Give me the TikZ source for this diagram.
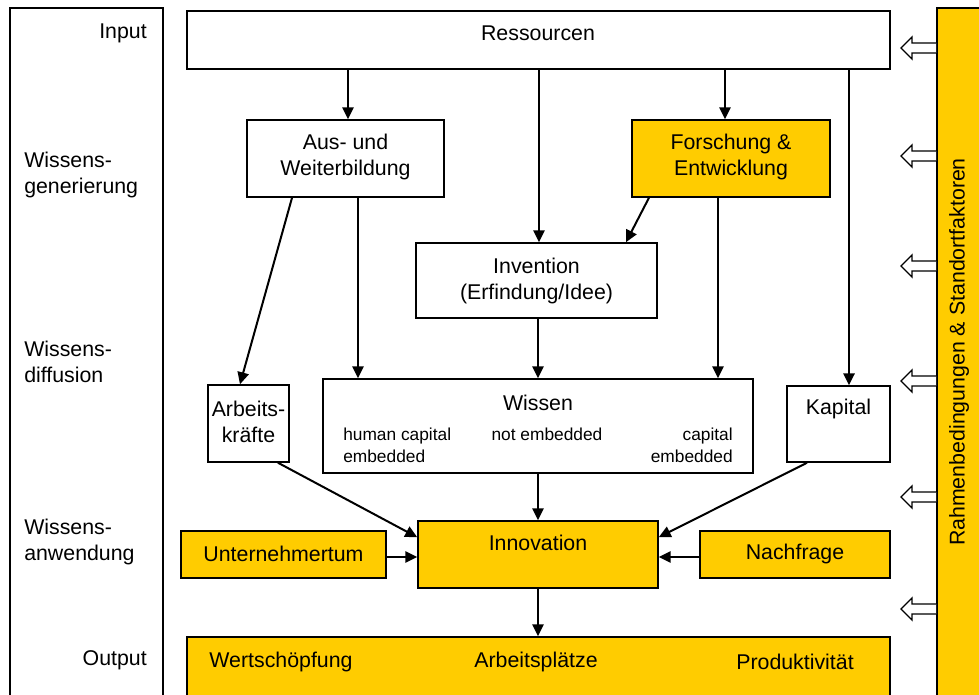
\documentclass[tikz,border=0pt]{standalone}
\usepackage{fontspec}
\setmainfont{Liberation Sans}
\usetikzlibrary{arrows.meta,calc}
\definecolor{gelb}{HTML}{FFCC00}
\newcommand{\mybox}[6]{\node[#6, minimum width={(#4-#2)*0.75pt}, minimum height={(#5-#3)*0.75pt}] (#1) at ({(#2+#4)/2},{(#3+#5)/2}) {};}
\begin{document}
\begin{tikzpicture}[x=0.75pt,y=-0.75pt,
  box/.style={draw, line width=1.1pt, inner sep=0pt, fill=white},
  ybox/.style={box, fill=gelb},
  txt/.style={inner sep=0pt, font=\fontsize{16}{19.5}\selectfont, align=center},
  stxt/.style={inner sep=0pt, font=\fontsize{13}{16}\selectfont},
  arr/.style={line width=1.5pt, -{Triangle[length=9pt,width=8.5pt]}},
  hollow/.style={draw, line width=1pt, fill=white, line join=miter}]
\useasboundingbox (0,0) rectangle (979,695);
\clip (0,0) rectangle (979,695);
% left column
\mybox{lc}{10}{8}{163}{720}{box}
\node[txt, anchor=east] (tin) at (147,33) {Input};
\node[txt, anchor=west, align=left] (tgen) at (24,175) {Wissens-\\generierung};
\node[txt, anchor=west, align=left] (tdif) at (24,362) {Wissens-\\diffusion};
\node[txt, anchor=west, align=left] (tanw) at (24,542) {Wissens-\\anwendung};
\node[txt, anchor=east] (tout) at (147,660) {Output};
% right bar
\mybox{rb}{937}{8}{1000}{720}{ybox}
\node[txt, rotate=90] (rbt) at (959,352) {Rahmenbedingungen \& Standortfaktoren};
\foreach \yy in {48,156,266,381,497,609} {
  \filldraw[hollow] (936,{\yy-5}) -- (912,{\yy-5}) -- (912,{\yy-11}) -- (901,\yy) -- (912,{\yy+11}) -- (912,{\yy+5}) -- (936,{\yy+5});
}
% boxes
\mybox{res}{187}{11}{890}{69}{box}
\node[txt] (tres) at (538,33) {Ressourcen};
\mybox{aus}{247}{120}{444}{197}{box}
\node[txt] (taus) at (345.5,157) {Aus- und\\Weiterbildung};
\mybox{fue}{632}{120}{830}{197}{ybox}
\node[txt] (tfue) at (731,157) {Forschung \&\\Entwicklung};
\mybox{inv}{416}{243}{657}{318}{box}
\node[txt] (tinv) at (536.5,281) {Invention\\(Erfindung/Idee)};
\mybox{arb}{208}{385}{289}{462}{box}
\node[txt] (tarb) at (248.5,422) {Arbeits-\\kräfte};
\mybox{wis}{323}{379}{753}{473}{box}
\node[txt] (twis) at (538,403) {Wissen};
\node[stxt, anchor=north west, align=left] (thc) at (343,428) {human capital\\embedded};
\node[stxt, anchor=north] (tne) at (547,428) {not embedded};
\node[stxt, anchor=north east, align=right] (tce) at (733,428) {capital\\embedded};
\mybox{kap}{787}{386}{890}{462}{box}
\node[txt] (tkap) at (838.5,409) {Kapital};
\mybox{inn}{418}{521}{658}{588}{ybox}
\node[txt] (tinn) at (538,543) {Innovation};
\mybox{unt}{181}{531}{386}{578}{ybox}
\node[txt] (tunt) at (283.5,554) {Unternehmertum};
\mybox{nach}{700}{531}{890}{578}{ybox}
\node[txt] (tnach) at (795,554) {Nachfrage};
\mybox{out}{187}{637}{890}{720}{ybox}
\node[txt] (tw) at (281,662) {Wertschöpfung};
\node[txt] (ta) at (536,662) {Arbeitsplätze};
\node[txt] (tp) at (795,662) {Produktivität};
% connectors
\draw[arr] ([xshift=1.9pt]aus.north |- res.south) -- ([xshift=1.9pt]aus.north);
\draw[arr] ([xshift=1.9pt]inv.north |- res.south) -- ([xshift=1.9pt]inv.north);
\draw[arr] ([xshift=-4.5pt]fue.north |- res.south) -- ([xshift=-4.5pt]fue.north);
\draw[arr] ([xshift=7.9pt]kap.north |- res.south) -- ([xshift=7.9pt]kap.north);
\draw[arr] ([xshift=-40.1pt]aus.south) -- ([xshift=-6.4pt]arb.north);
\draw[arr] ([xshift=9.4pt]aus.south) -- ([xshift=9.4pt]aus.south |- wis.north);
\draw[arr] ([xshift=-61.5pt]fue.south) -- ([xshift=67.1pt]inv.north);
\draw[arr] ([xshift=-9.75pt]fue.south) -- ([xshift=-9.75pt]fue.south |- wis.north);
\draw[arr] ([xshift=1.1pt]inv.south) -- ([xshift=1.1pt]inv.south |- wis.north);
\draw[arr] ([xshift=22.1pt]arb.south) -- ([yshift=-12.75pt]inn.north west);
\draw[arr] (wis.south -| inn.north) -- (inn.north);
\draw[arr] ([xshift=-23.6pt]kap.south) -- ([yshift=-12.75pt]inn.north east);
\draw[arr] ([yshift=-1.9pt]unt.east) -- ([yshift=-1.9pt]unt.east -| inn.west);
\draw[arr] ([yshift=-1.9pt]nach.west) -- ([yshift=-1.9pt]nach.west -| inn.east);
\draw[arr] (inn.south) -- (inn.south |- out.north);
\end{tikzpicture}
\end{document}
